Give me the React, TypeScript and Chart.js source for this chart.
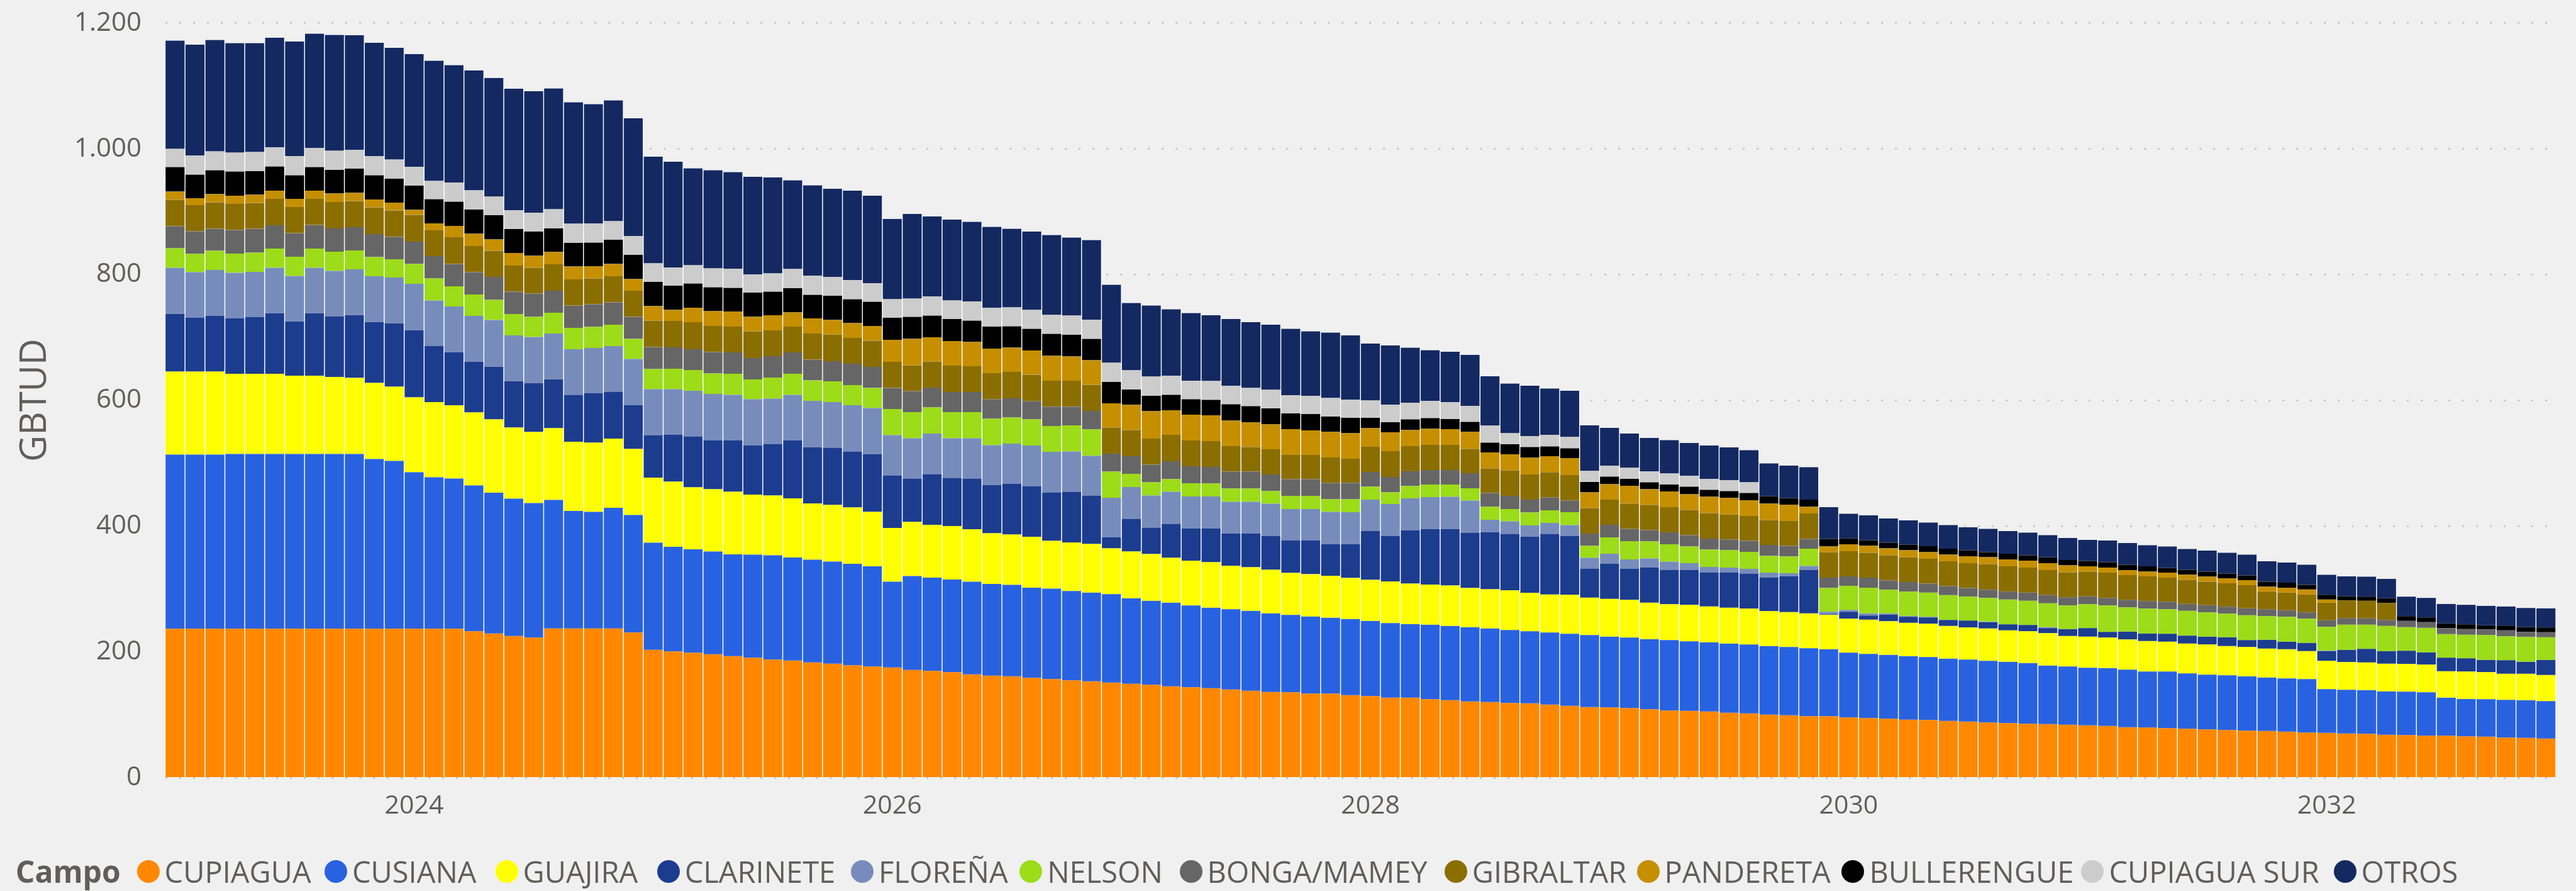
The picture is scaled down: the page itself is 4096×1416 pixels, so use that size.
import React, { useEffect, useRef } from "react";
import { Chart, registerables } from "chart.js";

Chart.register(...registerables);

// ---------- data ----------
const years = [2023, 2024, 2025, 2026, 2027, 2028, 2029, 2030, 2031, 2032];
const monthCodes = ["01", "02", "03", "04", "05", "06", "07", "08", "09", "10", "11", "12"];
const yearTickLabels = ["2024", "2026", "2028", "2030", "2032"];
const yTickValues = [0, 200, 400, 600, 800, 1000, 1200];

const cupiagua = [
  237, 237, 237, 237, 237, 237, 237, 237, 237, 237, 237, 237,
  237, 237, 237, 233, 229.5, 225.5, 223, 237.5, 237.5, 237.5, 237.5, 231,
  203.5, 201, 199, 196.5, 193.5, 191, 188, 186.5, 183.5, 181.5, 179, 177,
  175.5, 171.5, 170, 168, 164.5, 162.5, 161.5, 159, 157, 155, 153.5, 151.5,
  149.5, 148, 145.5, 144, 142.5, 140.5, 138.5, 136.5, 136, 134, 134, 131.5,
  130, 127.5, 127.5, 125, 123.5, 121.5, 120.5, 119, 118.5, 116.5, 114.5, 112.5,
  112, 111, 109, 107, 106.5, 105.5, 103.5, 102.5, 100.5, 99.5, 98, 98,
  96, 95, 94, 92.5, 92, 90.5, 89.5, 88, 87, 86, 85.5, 84.5,
  83.5, 82.5, 80.5, 80, 79, 78, 77, 76, 75, 74.5, 73.5, 72,
  71.5, 70.5, 70, 68.5, 68, 67, 67, 66, 65.5, 64, 63.5, 62.5,
];
const cusiana = [
  277, 277, 277, 278, 278, 278, 278, 278, 278, 278, 270, 267,
  249, 241, 239, 232, 224, 218.5, 214, 204.5, 187, 185.5, 192, 187,
  170.5, 166.5, 164.5, 163.5, 162, 164, 166, 164, 163.5, 162.5, 161.5, 159.5,
  136.5, 149.5, 148.5, 147.5, 147.5, 146, 145.5, 143.5, 144, 142, 141, 140.5,
  136, 133.5, 133, 130, 128, 127.5, 127, 125, 123, 122.5, 120.5, 121,
  119.5, 118.5, 117, 118.5, 118, 118, 117, 116, 114.5, 114.5, 114.5, 114.5,
  112.5, 112, 111.5, 112, 110.5, 110, 110, 109.5, 109, 108.5, 108, 106.5,
  103, 102, 101.5, 101, 100, 99, 98.5, 98, 97.5, 96.5, 93, 92.5,
  91.5, 92, 91.5, 89, 90, 88, 87, 87, 86.5, 85, 84.5, 85,
  69.5, 69.5, 69.5, 69, 69, 69, 60.5, 59.5, 59.5, 60, 60, 59.5,
];
const guajira = [
  132, 132, 132, 127.5, 127.5, 127.5, 124.5, 124.5, 122.5, 121, 121, 118,
  119, 119.5, 116.5, 116, 116.5, 113, 113, 114, 110, 110, 110, 105,
  103.5, 103.5, 98.5, 99, 99.5, 95.5, 95, 94, 89.5, 90, 89.5, 86.5,
  85.5, 86, 84, 85, 83.5, 80.5, 80, 81, 76, 77.5, 77.5, 73,
  74.5, 74.5, 71.5, 71.5, 72.5, 69.5, 69.5, 69.5, 67, 67.5, 67, 65.5,
  65.5, 66.5, 64.5, 64, 64.5, 62.5, 62.5, 63, 61, 60.5, 62, 59.5,
  60, 60, 58, 57, 58, 57, 57, 57, 55.5, 55.5, 55.5, 54.5,
  54, 54.5, 53.5, 53, 53, 52, 51, 51.5, 50, 50.5, 51.5, 48.5,
  49.5, 48.5, 48, 48.5, 47.5, 47.5, 48, 46.5, 46.5, 46, 46.5, 44.5,
  45, 44, 44, 44, 44, 44, 42, 43.5, 43, 41.5, 42, 41.5,
];
const clarinete = [
  92, 85.5, 89, 88, 90, 96.5, 86.5, 99.5, 96, 100, 97, 101,
  107, 89, 84, 81, 84, 74, 78, 78, 74.5, 78.5, 74.5, 69.5,
  67.5, 74.5, 81, 78, 81.5, 78, 82, 92, 89, 91, 89, 92,
  83.5, 69, 80.5, 76.5, 80.5, 76.5, 80.5, 80.5, 77, 80.5, 77, 17.5,
  52, 42, 54, 51, 53.5, 51, 53.5, 53.5, 51.5, 53.5, 50, 53.5,
  77.5, 72, 84.5, 88, 89.5, 88, 90.5, 90, 89.5, 96.5, 93.5, 46.5,
  56, 49.5, 56, 55, 56, 54, 56.5, 56, 54, 57, 69.5, 1,
  11, 6.5, 10.5, 9.5, 10, 9.5, 11, 10, 9.5, 10, 8, 11,
  13.5, 9, 12.5, 12, 12.5, 12.5, 12.5, 14, 11, 14, 12, 13,
  15.5, 19.5, 21.5, 20, 21, 19.5, 21.5, 21, 19.5, 21.5, 19, 24,
];
const florena = [
  73, 72.5, 72.5, 72.5, 72, 72, 72, 72, 72.5, 72.5, 72.5, 72.5,
  73.5, 72.5, 73, 72.5, 74, 72.5, 73, 72.5, 72.5, 72, 72.5, 73.5,
  73, 72.5, 72.5, 73.5, 72.5, 73.5, 72, 72.5, 74, 72.5, 73.5, 73,
  64, 64, 64.5, 63, 64, 63.5, 64, 64.5, 64.5, 64, 63, 63,
  50.5, 51, 51, 51, 51, 50.5, 50.5, 51.5, 50, 50, 51.5, 51,
  50, 51, 51, 51, 51.5, 51, 20, 20, 18, 17.5, 17.5, 17,
  16, 15, 14.5, 13, 10.5, 9, 7.5, 7.5, 7.5, 5, 6, 4,
  3, 3.5, 2, 1.5, 1, 0, 0, 1, 0, 0, 1.5, 0,
  0, 0, 0, 0, 0, 0, 0, 0, 0, 0, 0, 0,
  1, 0, 0, 0, 0, 0, 0, 0, 0, 0, 0, 0,
];
const nelson = [
  31, 29, 30.5, 30.5, 30.5, 30.5, 30.5, 30.5, 30.5, 30, 30.5, 29,
  31.5, 35, 32, 34, 32, 34, 32, 33, 34, 33.5, 34, 32,
  32, 32.5, 33, 32.5, 33.5, 31.5, 33.5, 33.5, 32.5, 33, 32, 32,
  41.5, 41.5, 41.5, 41.5, 41.5, 42, 41.5, 41.5, 41, 41.5, 42, 41.5,
  21, 21, 20, 21, 20.5, 21, 21, 20, 21, 21, 20, 20.5,
  20.5, 18.5, 19.5, 20, 19.5, 19.5, 20.5, 19.5, 20.5, 20, 20.5, 19,
  26, 29, 27, 27.5, 26.5, 27.5, 27.5, 27, 26.5, 26.5, 27.5, 38,
  38.5, 41, 37.5, 38.5, 38.5, 39.5, 38, 37.5, 39.5, 38.5, 38, 37.5,
  38, 42, 38.5, 39.5, 39, 39.5, 38.5, 37.5, 39.5, 37.5, 39.5, 38.5,
  37.5, 40, 38.5, 40, 37.5, 39, 37.5, 37.5, 39.5, 38, 39.5, 36,
];
const bongaMamey = [
  35, 36, 35, 37.5, 38, 37, 37.5, 37.5, 37, 37, 36.5, 35.5,
  35.5, 35.5, 35.5, 35.5, 36.5, 35.5, 37, 35, 35.5, 36, 35.5, 35,
  35, 34, 33, 34, 34, 34, 34, 34, 33, 32, 34, 33.5,
  33.5, 33.5, 31.5, 32, 32, 31, 30.5, 29, 30.5, 29.5, 29.5, 28.5,
  28, 28, 28.5, 27, 26.5, 27, 27, 26.5, 26.5, 26.5, 26, 26,
  23.5, 24.5, 23.5, 23, 23, 24, 22, 21, 20.5, 20.5, 18.5, 19.5,
  20, 19.5, 18, 19, 18, 17.5, 17, 17.5, 17.5, 17, 15.5, 16.5,
  15, 16, 15, 15.5, 14.5, 14.5, 14, 13, 12.5, 13, 13, 13,
  12.5, 12, 12, 12, 12, 11, 11.5, 11, 11, 11, 10, 10,
  10.5, 10.5, 10, 9.5, 10, 9, 9.5, 9, 9, 9.5, 8, 8,
];
const gibraltar = [
  42, 41.5, 42, 41.5, 41, 42, 41.5, 41.5, 42, 41.5, 42.5, 42,
  42.5, 41, 42.5, 41.5, 41.5, 41.5, 41, 42, 41.5, 41, 41.5, 41.5,
  42, 42, 43, 41.5, 41, 42.5, 41, 41, 41.5, 42.5, 41, 41.5,
  41.5, 41, 41.5, 42, 41, 41.5, 42, 42, 41.5, 41.5, 41.5, 41.5,
  41.5, 41.5, 42, 41, 41, 40.5, 39, 40, 38.5, 38.5, 40.5, 38.5,
  40, 41, 40, 40, 40, 38.5, 39, 40.5, 40, 40, 40.5, 40.5,
  40, 40, 40, 40, 40, 40.5, 40, 39.5, 39.5, 39.5, 40.5, 40.5,
  40, 39.5, 40, 39.5, 39.5, 39.5, 39.5, 41, 40.5, 40, 40, 40,
  39.5, 40.5, 39.5, 39.5, 38.5, 38.5, 37.5, 37.5, 37, 28, 28.5, 28.5,
  28, 28, 28, 27, 0, 0, 0, 0, 0, 0, 0, 0,
];
const pandereta = [
  13, 11, 13, 13, 13, 13, 13, 13, 13.5, 13, 12.5, 12.5,
  8, 11, 18, 19.5, 18, 20, 19, 19.5, 20.5, 19.5, 19.5, 18.5,
  23, 17.5, 23, 23.5, 24, 23, 24, 22.5, 24, 23, 23.5, 23.5,
  35, 42, 38.5, 39, 38.5, 39, 38.5, 38.5, 39.5, 38.5, 39, 38.5,
  40, 43.5, 39, 41, 41, 40.5, 39, 39.5, 41, 39, 40.5, 40.5,
  29.5, 30, 25.5, 25.5, 25, 27, 25.5, 25.5, 26.5, 25.5, 27, 25,
  24.5, 28.5, 25, 25, 25, 26, 26, 25, 26, 26, 10.5, 9,
  11, 11, 11, 11, 10.5, 10.5, 11, 11, 11, 11, 11, 11,
  8.5, 8, 8, 7.5, 8, 8, 8, 8, 8, 8, 8, 8,
  5, 0, 0, 0, 0, 0, 0, 0, 0, 0, 0, 0,
];
const bullerengue = [
  39, 37.5, 38, 38.5, 37.5, 38.5, 37.5, 37.5, 37.5, 38.5, 38.5, 38,
  38.5, 38.5, 38.5, 38.5, 38.5, 38, 38.5, 37.5, 37.5, 37.5, 38.5, 38.5,
  38.5, 38.5, 38.5, 38, 37.5, 38.5, 37.5, 38.5, 37.5, 38.5, 38, 38.5,
  35, 35, 34.5, 35, 34, 35, 34, 34.5, 35, 34.5, 34, 34,
  24.5, 24.5, 24.5, 24.5, 24.5, 26, 26, 25.5, 25, 26, 24.5, 24.5,
  16.5, 16, 17, 17, 16, 16, 15.5, 16, 17, 15.5, 15.5, 16.5,
  12, 11, 11, 11, 12, 11, 11, 11.5, 12, 10.5, 11.5, 12,
  9.5, 9, 9, 9, 9.5, 9.5, 9.5, 8, 9, 8.5, 9.5, 8.5,
  8.5, 8.5, 8.5, 8.5, 7.5, 8, 8, 7.5, 7.5, 8, 8, 7.5,
  7.5, 6.5, 6.5, 7.5, 7.5, 7.5, 7.5, 7.5, 6.5, 7.5, 7.5, 7.5,
];
const cupiaguaSur = [
  29, 30.5, 30, 30, 30.5, 30.5, 30.5, 30.5, 30.5, 30, 30.5, 30.5,
  30, 29, 30.5, 30.5, 29.5, 30, 30, 30.5, 30.5, 30.5, 29.5, 30,
  29.5, 29, 29, 30, 30.5, 29, 29, 30.5, 30.5, 30, 30.5, 29.5,
  29.5, 29, 30.5, 29.5, 30.5, 30, 30, 30, 30, 30.5, 30.5, 30.5,
  30.5, 30.5, 30.5, 29.5, 30, 29.5, 29, 29.5, 29, 29, 29.5, 29,
  27.5, 28, 26.5, 27.5, 27, 25.5, 27, 17.5, 17.5, 18.5, 18, 17.5,
  17.5, 17.5, 17.5, 17.5, 17.5, 17.5, 17.5, 17, 0, 0, 0, 0,
  0, 0, 0, 0, 0, 0, 0, 0, 0, 0, 0, 0,
  0, 0, 0, 0, 0, 0, 0, 0, 0, 0, 0, 0,
  0, 0, 0, 0, 0, 0, 0, 0, 0, 0, 0, 0,
];
const otros = [
  172, 176, 177, 174, 173, 174, 182, 181.5, 184, 182, 180, 177.5,
  179, 191, 186.5, 190.5, 188.5, 193, 193, 192, 193, 189.5, 192, 187,
  169.5, 168, 154, 156, 153.5, 155, 152.5, 141, 143.5, 140, 142, 139,
  127.5, 134.5, 127, 128.5, 126.5, 128.5, 125, 124.5, 127, 124, 126.5, 124,
  107, 113, 105.5, 107.5, 104.5, 106, 104.5, 103.5, 105.5, 102.5, 104, 102,
  90.5, 94, 87.5, 80.5, 80, 81, 78.5, 79, 80, 73.5, 73.5, 72.5,
  60, 54.5, 53, 53, 52, 53, 52, 51, 52, 51.5, 51.5, 50.5,
  39, 39.5, 38.5, 38.5, 37.5, 37.5, 36.5, 37, 36, 36, 35, 35,
  33.5, 34.5, 34.5, 33.5, 34, 33, 33.5, 33, 33, 32.5, 32, 32,
  32, 32, 32, 31, 31, 31, 31, 31, 31, 30.5, 30.5, 30.5,
];

const seriesNames = [
  "CUPIAGUA", "CUSIANA", "GUAJIRA", "CLARINETE", "FLOREÑA", "NELSON",
  "BONGA/MAMEY", "GIBRALTAR", "PANDERETA", "BULLERENGUE", "CUPIAGUA SUR", "OTROS",
];
const seriesData = [
  cupiagua, cusiana, guajira, clarinete, florena, nelson,
  bongaMamey, gibraltar, pandereta, bullerengue, cupiaguaSur, otros,
];
const seriesColors = [
  "#FF8800", "#2962E0", "#FFFF00", "#1C3C8E", "#788CBC", "#9CDC18",
  "#666666", "#8B6E00", "#C58F00", "#000000", "#CCCCCC", "#142961",
];

const categories: string[] = [];
years.forEach((y) => monthCodes.forEach((m) => categories.push(`${y}-${m}`)));

// ---------- layout (scaled 0.918) ----------
const W = 4096;
const H = 1416;
const FONT = '"Open Sans", "Noto Sans", sans-serif';
const TEXT = "#605E5C";
const BG = "#F0F0F0";
const PLOT_TOP = 36.6;
const PLOT_BOTTOM = 1236.3;
const PLOT_LEFT = 262.5;
const PLOT_RIGHT = 4064;
const X_AXIS_H = 80;
// legend marker left positions (px)
const legendMarkerX = [217.6, 515.9, 787.6, 1044.7, 1353.1, 1621.2, 1875.5, 2296.8, 2602.5, 2928.4, 3309.4, 3710.6];
const LEGEND_Y = 1385;

function fmt(v: number): string {
  return v >= 1000 ? `${Math.floor(v / 1000)}.${String(v % 1000).padStart(3, "0")}` : String(v);
}

export default function App() {
  const ref = useRef<HTMLCanvasElement | null>(null);

  useEffect(() => {
    document.body.style.margin = "0";
    document.body.style.background = BG;
    const canvas = ref.current;
    if (!canvas) return;
    const chart = new Chart(canvas, {
      type: "bar",
      data: {
        labels: categories,
        datasets: seriesNames.map((name, i) => ({
          label: name,
          data: seriesData[i],
          backgroundColor: seriesColors[i],
          borderColor: "#FFFFFF",
          borderWidth: { left: 1.05, right: 1.05, top: 0, bottom: 0 },
          borderSkipped: "start",
          barPercentage: 1,
          categoryPercentage: 1,
        })),
      },
      options: {
        responsive: false,
        maintainAspectRatio: false,
        animation: false,
        devicePixelRatio: 1,
        layout: {
          padding: { left: 0, top: PLOT_TOP, right: W - PLOT_RIGHT, bottom: H - PLOT_BOTTOM - X_AXIS_H },
        },
        plugins: {
          legend: { display: false },
          tooltip: { enabled: false },
        },
        scales: {
          x: {
            stacked: true,
            grid: { display: false, drawTicks: false },
            border: { display: false },
            ticks: {
              autoSkip: false,
              maxRotation: 0,
              minRotation: 0,
              padding: 20,
              color: TEXT,
              font: { family: FONT, size: 41 },
              callback: (_v: any, i: number) => {
                const c = categories[i];
                const [y, m] = c.split("-");
                return m === "01" && yearTickLabels.includes(y) ? y : "";
              },
            },
            afterFit: (s: any) => {
              s.height = X_AXIS_H;
              s.paddingLeft = 0;
              s.paddingRight = 0;
            },
          },
          y: {
            stacked: true,
            min: 0,
            max: 1200,
            afterBuildTicks: (s: any) => {
              s.ticks = yTickValues.map((v) => ({ value: v }));
            },
            grid: { color: "#C8C8C8", lineWidth: 2.75, drawTicks: false },
            border: { display: false, dash: [3.3, 18.7] },
            ticks: {
              padding: 37.5,
              color: TEXT,
              font: { family: FONT, size: 42 },
              callback: (v: any) => fmt(Number(v)),
            },
            afterFit: (s: any) => {
              s.width = PLOT_LEFT;
              s.paddingTop = 0;
              s.paddingBottom = 0;
            },
          },
        },
      } as any,
    });
    return () => chart.destroy();
  }, []);

  return (
    <div style={{ position: "fixed", left: 0, top: 0, width: W, height: H, background: BG, overflow: "hidden" }}>
      <canvas ref={ref} width={W} height={H} style={{ position: "absolute", left: 0, top: 0, width: W, height: H }} />
      <div
        style={{
          position: "absolute",
          left: 50.5,
          top: (PLOT_TOP + PLOT_BOTTOM) / 2,
          transform: "translate(-50%, -50%) rotate(-90deg)",
          fontFamily: FONT,
          fontSize: 58,
          color: TEXT,
          whiteSpace: "nowrap",
          lineHeight: 1,
        }}
      >
        GBTUD
      </div>
      <div
        style={{
          position: "absolute",
          left: 24.8,
          top: LEGEND_Y,
          transform: "translateY(-50%)",
          fontFamily: FONT,
          fontSize: 48,
          fontWeight: 700,
          color: TEXT,
          whiteSpace: "nowrap",
          lineHeight: 1,
        }}
      >
        Campo
      </div>
      {seriesNames.map((name, i) => (
        <React.Fragment key={name}>
          <div
            style={{
              position: "absolute",
              left: legendMarkerX[i],
              top: LEGEND_Y - 18,
              width: 36,
              height: 36,
              borderRadius: "50%",
              background: seriesColors[i],
            }}
          />
          <div
            style={{
              position: "absolute",
              left: legendMarkerX[i] + 44,
              top: LEGEND_Y,
              transform: "translateY(-50%)",
              fontFamily: FONT,
              fontSize: 47,
              color: TEXT,
              whiteSpace: "nowrap",
              lineHeight: 1,
            }}
          >
            {name}
          </div>
        </React.Fragment>
      ))}
    </div>
  );
}
